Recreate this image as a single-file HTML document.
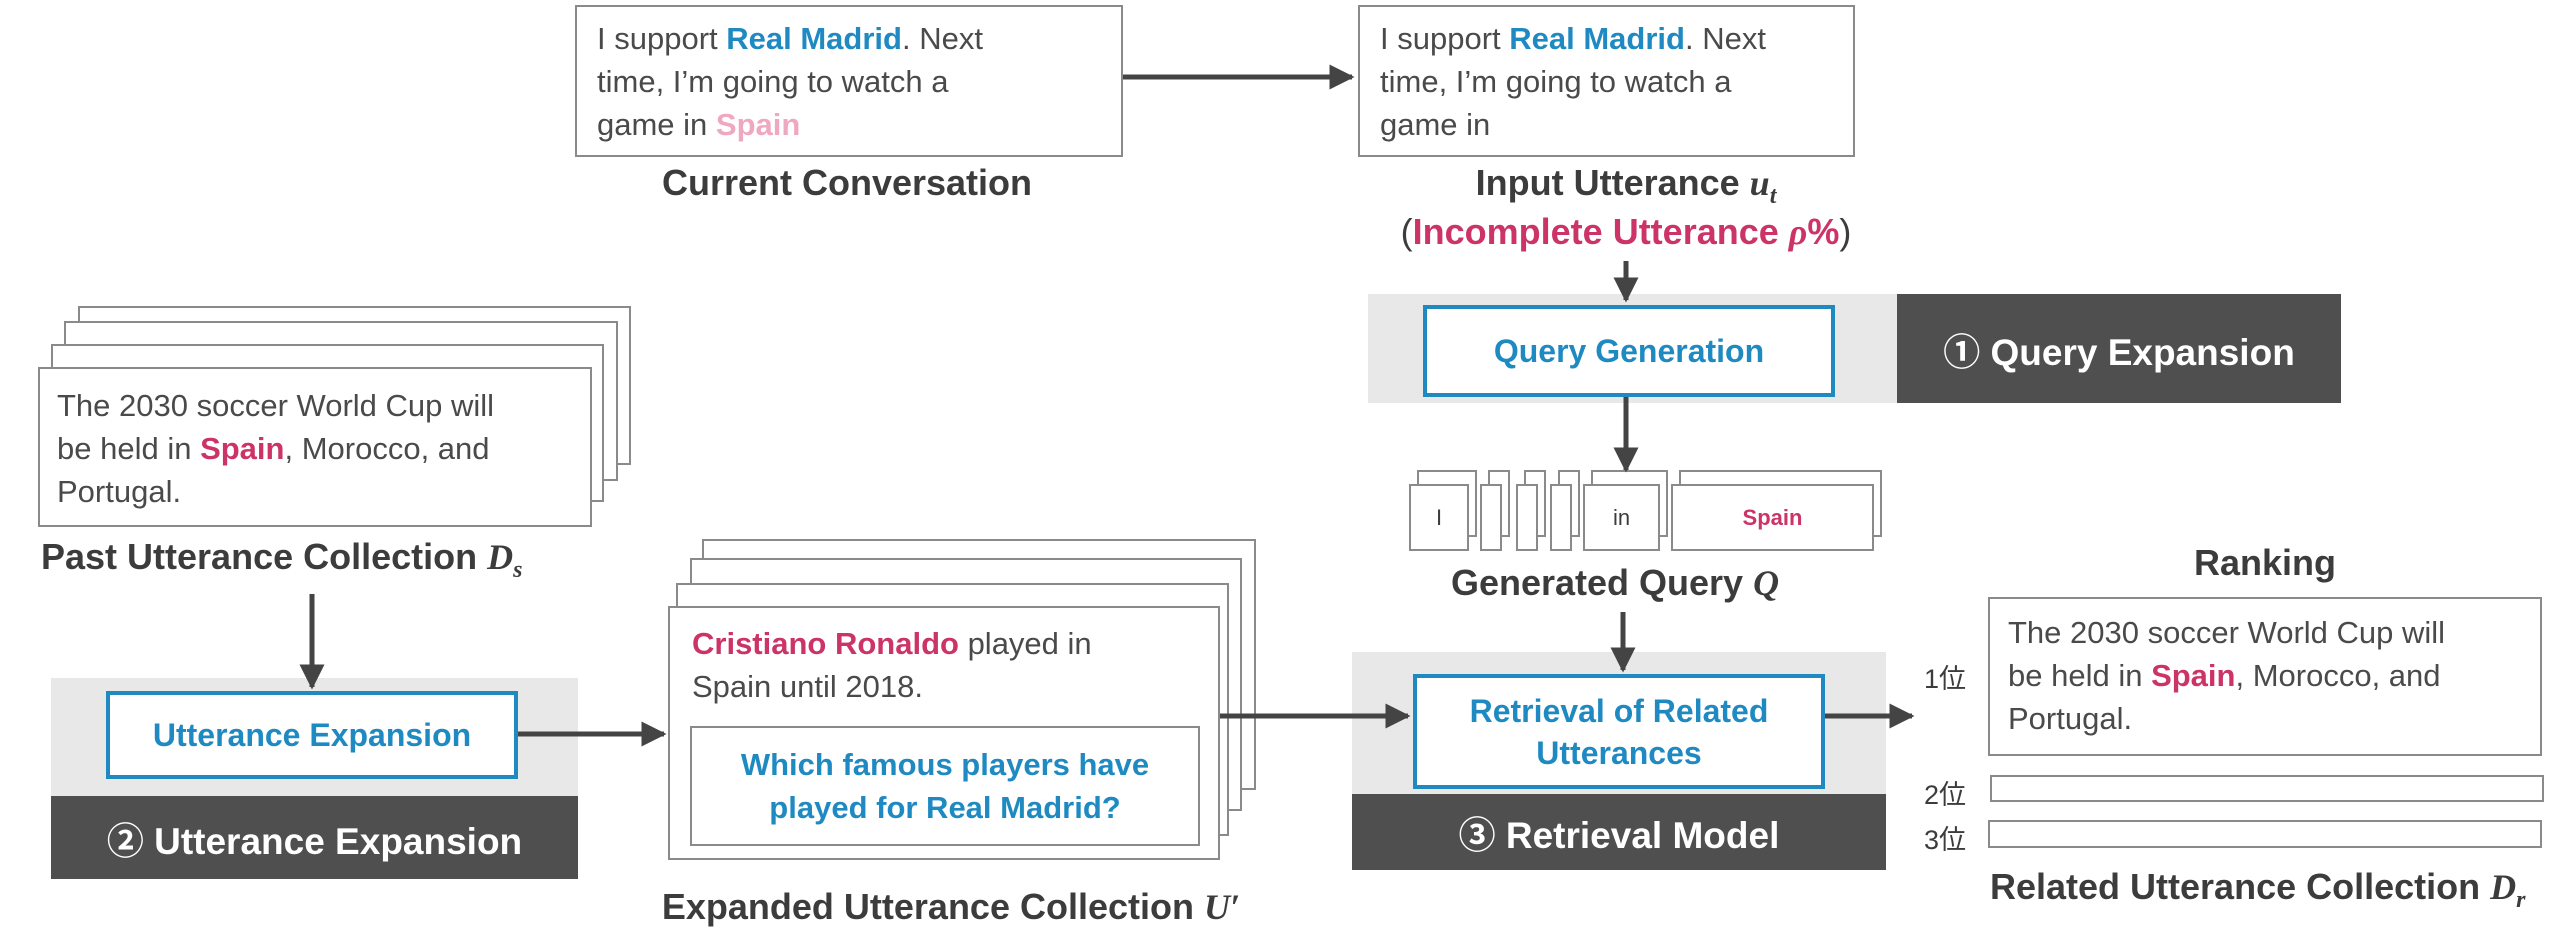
<!DOCTYPE html>
<html><head><meta charset="utf-8"><style>
body{margin:0;width:2560px;height:948px;background:#fff;position:relative;overflow:hidden;font-family:"Liberation Sans","Noto Sans CJK JP",sans-serif;color:#3c3c3c}
.a{position:absolute;box-sizing:border-box}
.box{background:#fff;border:2px solid #8a8a8a}
.t{font-size:31px;line-height:43px;color:#4a4a4a}
.lbl{font-weight:bold;font-size:36px;text-align:center;white-space:nowrap;color:#3c3c3c}
.bl{color:#1f8ac2;font-weight:bold}
.rd{color:#cc3366;font-weight:bold}
.gray{background:#e8e8e8}
.dark{background:#4f4f4f;color:#fff;font-weight:bold;font-size:37px;display:flex;align-items:center;justify-content:center}
.bbox{background:#fff;border:4px solid #1f8ac2;color:#1f8ac2;font-weight:bold;font-size:32px;display:flex;align-items:center;justify-content:center;text-align:center;line-height:42px}
i{font-family:"Liberation Serif",serif;font-weight:bold}
.tk{background:#fff;border:2px solid #8a8a8a;font-size:22px;display:flex;align-items:center;justify-content:center}
</style></head><body>

<div class="a box t" style="left:575px;top:5px;width:548px;height:152px;padding:10px 0 0 20px">I support <span class="bl">Real Madrid</span>. Next<br>time, I’m going to watch a<br>game in <span style="color:#f0a8c0;font-weight:bold">Spain</span></div>
<div class="a lbl" style="left:647px;top:162px;width:400px">Current Conversation</div>

<div class="a box t" style="left:1358px;top:5px;width:497px;height:152px;padding:10px 0 0 20px">I support <span class="bl">Real Madrid</span>. Next<br>time, I’m going to watch a<br>game in</div>
<div class="a lbl" style="left:1426px;top:162px;width:400px">Input Utterance <i>u<sub style="font-size:24px">t</sub></i></div>
<div class="a lbl" style="left:1376px;top:211px;width:500px"><span style="font-weight:normal">(</span><span style="color:#cc3366">Incomplete Utterance <i>ρ</i>%</span><span style="font-weight:normal">)</span></div>

<div class="a gray" style="left:1368px;top:294px;width:529px;height:109px"></div>
<div class="a dark" style="left:1897px;top:294px;width:444px;height:109px">① Query Expansion</div>
<div class="a bbox" style="left:1423px;top:305px;width:412px;height:92px">Query Generation</div>

<div class="a tk" style="left:1417px;top:470px;width:60px;height:67px"></div>
<div class="a tk" style="left:1488px;top:470px;width:22px;height:67px"></div>
<div class="a tk" style="left:1524px;top:470px;width:22px;height:67px"></div>
<div class="a tk" style="left:1558px;top:470px;width:22px;height:67px"></div>
<div class="a tk" style="left:1591px;top:470px;width:77px;height:67px"></div>
<div class="a tk" style="left:1679px;top:470px;width:203px;height:67px"></div>
<div class="a tk" style="left:1409px;top:484px;width:60px;height:67px">I</div>
<div class="a tk" style="left:1480px;top:484px;width:22px;height:67px"></div>
<div class="a tk" style="left:1516px;top:484px;width:22px;height:67px"></div>
<div class="a tk" style="left:1550px;top:484px;width:22px;height:67px"></div>
<div class="a tk" style="left:1583px;top:484px;width:77px;height:67px">in</div>
<div class="a tk" style="left:1671px;top:484px;width:203px;height:67px;color:#cc3366;font-weight:bold">Spain</div>
<div class="a lbl" style="left:1415px;top:562px;width:400px">Generated Query <i>Q</i></div>

<div class="a gray" style="left:1352px;top:652px;width:534px;height:142px"></div>
<div class="a dark" style="left:1352px;top:794px;width:534px;height:76px">③ Retrieval Model</div>
<div class="a bbox" style="left:1413px;top:674px;width:412px;height:115px">Retrieval of Related<br>Utterances</div>

<div class="a lbl" style="left:2115px;top:542px;width:300px">Ranking</div>
<div class="a box t" style="left:1988px;top:597px;width:554px;height:159px;padding:12px 0 0 18px">The 2030 soccer World Cup will<br>be held in <span class="rd">Spain</span>, Morocco, and<br>Portugal.</div>
<div class="a" style="left:1924px;top:657px;font-size:27px">1位</div>
<div class="a box" style="left:1990px;top:775px;width:554px;height:27px"></div>
<div class="a" style="left:1924px;top:773px;font-size:27px">2位</div>
<div class="a box" style="left:1988px;top:820px;width:554px;height:28px"></div>
<div class="a" style="left:1924px;top:818px;font-size:27px">3位</div>
<div class="a lbl" style="left:1990px;top:866px;width:500px">Related Utterance Collection <i>D<sub style="font-size:24px">r</sub></i></div>

<div class="a box" style="left:78px;top:306px;width:553px;height:159px"></div>
<div class="a box" style="left:64px;top:321px;width:554px;height:160px"></div>
<div class="a box" style="left:51px;top:344px;width:553px;height:158px"></div>
<div class="a box t" style="left:38px;top:367px;width:554px;height:160px;padding:15px 0 0 17px">The 2030 soccer World Cup will<br>be held in <span class="rd">Spain</span>, Morocco, and<br>Portugal.</div>
<div class="a lbl" style="left:41px;top:536px;text-align:left">Past Utterance Collection <i>D<sub style="font-size:24px">s</sub></i></div>

<div class="a gray" style="left:51px;top:678px;width:527px;height:118px"></div>
<div class="a dark" style="left:51px;top:796px;width:527px;height:83px">② Utterance Expansion</div>
<div class="a bbox" style="left:106px;top:691px;width:412px;height:88px">Utterance Expansion</div>

<div class="a box" style="left:702px;top:539px;width:554px;height:251px"></div>
<div class="a box" style="left:690px;top:558px;width:552px;height:253px"></div>
<div class="a box" style="left:676px;top:583px;width:553px;height:253px"></div>
<div class="a box" style="left:668px;top:606px;width:552px;height:254px"></div>
<div class="a t" style="left:692px;top:622px;white-space:nowrap"><span class="rd">Cristiano Ronaldo</span> played in<br>Spain until 2018.</div>
<div class="a box" style="left:690px;top:726px;width:510px;height:120px;border-width:2px;display:flex;align-items:center;justify-content:center;text-align:center;font-size:31px;line-height:43px"><span class="bl">Which famous players have<br>played for Real Madrid?</span></div>
<div class="a lbl" style="left:631px;top:886px;width:640px">Expanded Utterance Collection <i>U′</i></div>

<svg class="a" style="left:0;top:0" width="2560" height="948">
<defs><marker id="m" markerWidth="5" markerHeight="5" refX="4.5" refY="2.5" orient="auto" markerUnits="strokeWidth"><path d="M0,0 L5,2.5 L0,5z" fill="#444"/></marker></defs>
<g stroke="#444" stroke-width="5" fill="none" marker-end="url(#m)">
<line x1="1123" y1="77" x2="1352" y2="77"/>
<line x1="1626" y1="261" x2="1626" y2="300"/>
<line x1="1626" y1="397" x2="1626" y2="470"/>
<line x1="1623" y1="612" x2="1623" y2="670"/>
<line x1="1825" y1="716" x2="1912" y2="716"/>
<line x1="312" y1="594" x2="312" y2="687"/>
<line x1="518" y1="734" x2="664" y2="734"/>
<line x1="1220" y1="716" x2="1408" y2="716"/>
</g></svg>
</body></html>
